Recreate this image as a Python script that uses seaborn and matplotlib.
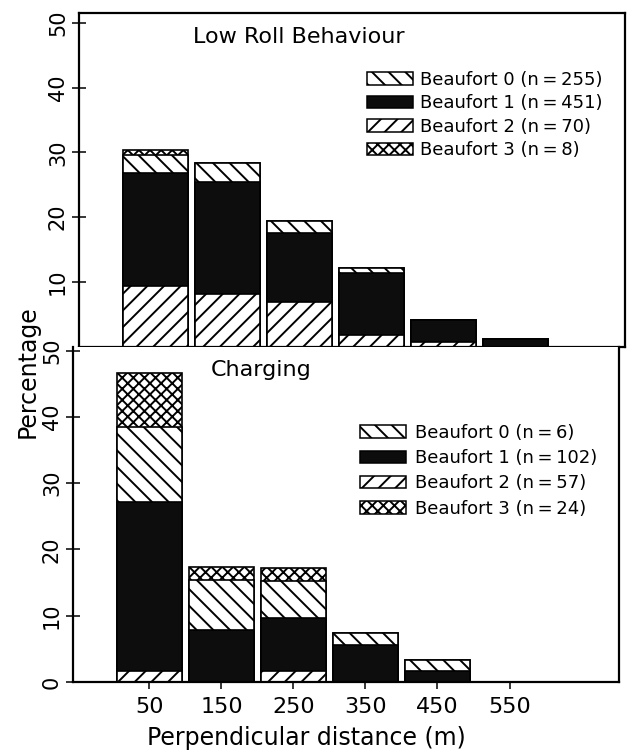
import numpy as np
import pandas as pd
import matplotlib
matplotlib.use("Agg")
import matplotlib.pyplot as plt
import seaborn as sns
from matplotlib.patches import Patch

# ---------------- data ----------------
distances = [50, 150, 250, 350, 450, 550]
x_tick_labels = ["50", "150", "250", "350", "450", "550"]
categories = ["Beaufort 0", "Beaufort 1", "Beaufort 2", "Beaufort 3"]

low_roll_b0 = [2.8, 2.9, 1.9, 0.7, 0.0, 0.0]
low_roll_b1 = [17.4, 17.4, 10.6, 9.6, 3.4, 1.2]
low_roll_b2 = [9.4, 8.1, 6.9, 1.8, 0.7, 0.0]
low_roll_b3 = [0.8, 0.0, 0.0, 0.0, 0.0, 0.0]
low_roll_n = [255, 451, 70, 8]

charging_b0 = [11.3, 7.6, 5.7, 1.8, 1.7, 0.0]
charging_b1 = [25.6, 7.8, 8.0, 5.6, 1.6, 0.0]
charging_b2 = [1.6, 0.0, 1.6, 0.0, 0.0, 0.0]
charging_b3 = [8.1, 2.0, 1.9, 0.0, 0.0, 0.0]
charging_n = [6, 102, 57, 24]

# ---------------- style ----------------
sns.set_theme(style="ticks")
plt.rcParams["font.family"] = ["DejaVu Sans"]
plt.rcParams["hatch.linewidth"] = 1.4
plt.rcParams["hatch.color"] = "black"
plt.rcParams["text.color"] = "black"
plt.rcParams["xtick.color"] = "black"
plt.rcParams["ytick.color"] = "black"
plt.rcParams["xtick.labelcolor"] = "black"
plt.rcParams["ytick.labelcolor"] = "black"

BLACK = "#0d0d0d"
styles = {
    "Beaufort 0": dict(color="white", hatch="\\\\"),
    "Beaufort 1": dict(color=BLACK, hatch=None),
    "Beaufort 2": dict(color="white", hatch="//"),
    "Beaufort 3": dict(color="white", hatch="xxx"),
}

W, H = 628, 753
fig = plt.figure(figsize=(W / 100, H / 100), dpi=100)


def px_axes(left, right, top, bottom):
    return fig.add_axes([left / W, 1 - bottom / H, (right - left) / W, (bottom - top) / H])


ax_top = px_axes(79, 625, 13, 346.5)
ax_bot = px_axes(73, 619, 346.5, 682)


def draw_panel(ax, b0, b1, b2, b3):
    b0, b1, b2, b3 = map(np.asarray, (b0, b1, b2, b3))
    c1 = b2
    c2 = c1 + b1
    c3 = c2 + b0
    c4 = c3 + b3
    # draw from top of stack downward so lower segments overlay
    for cum, cat in [(c4, "Beaufort 3"), (c3, "Beaufort 0"), (c2, "Beaufort 1"), (c1, "Beaufort 2")]:
        df = pd.DataFrame({"distance": distances, "pct": cum})
        st = styles[cat]
        sns.barplot(data=df, x="distance", y="pct", native_scale=True, ax=ax,
                    color=st["color"], saturation=1, edgecolor="black",
                    linewidth=1.2, hatch=st["hatch"], width=0.9, errorbar=None)
    ax.set_xlim(-56, 702)
    ax.set_xlabel("")
    ax.set_ylabel("")
    for s in ax.spines.values():
        s.set_linewidth(1.6)
        s.set_color("black")


draw_panel(ax_top, low_roll_b0, low_roll_b1, low_roll_b2, low_roll_b3)
draw_panel(ax_bot, charging_b0, charging_b1, charging_b2, charging_b3)

ax_top.set_ylim(0, 51.55)
ax_bot.set_ylim(0, 50.63)

ax_top.set_yticks([10, 20, 30, 40, 50])
ax_top.set_yticklabels(["10", "20", "30", "40", "50"])
ax_bot.set_yticks([0, 10, 20, 30, 40, 50])
ax_bot.set_yticklabels(["0", "10", "20", "30", "40", "50"])

for ax in (ax_top, ax_bot):
    ax.tick_params(axis="y", direction="inout", length=10, width=1.1, pad=3,
                   labelsize=15, labelrotation=90, colors="black")
    for lab in ax.get_yticklabels():
        lab.set_verticalalignment("center")

ax_top.set_xticks([])
ax_top.tick_params(axis="x", bottom=False, labelbottom=False)
ax_bot.spines["top"].set_visible(False)
ax_bot.set_xticks(distances)
ax_bot.set_xticklabels(x_tick_labels)
ax_bot.tick_params(axis="x", direction="out", length=5, width=1.1, pad=6,
                   labelsize=16, colors="black")

# titles
fig.text(193 / W, 1 - 37 / H, "Low Roll Behaviour", fontsize=16, ha="left", va="center", color="black")
fig.text(211 / W, 1 - 370 / H, "Charging", fontsize=16, ha="left", va="center", color="black")

# axis labels
fig.text(306 / W, 1 - 738 / H, "Perpendicular distance (m)", fontsize=17,
         ha="center", va="center", color="black")
fig.text(28 / W, 1 - 372 / H, "Percentage", fontsize=17, ha="center", va="center",
         rotation=90, color="black")


def make_handles():
    hs = []
    for cat in categories:
        st = styles[cat]
        hs.append(Patch(facecolor=st["color"], edgecolor="black", hatch=st["hatch"], linewidth=1.1))
    return hs


top_labels = [f"{c} (n\u2009=\u2009{n})" for c, n in zip(categories, low_roll_n)]
bot_labels = [f"{c} (n\u2009=\u2009{n})" for c, n in zip(categories, charging_n)]

leg1 = fig.legend(make_handles(), top_labels, loc="upper left",
                  bbox_to_anchor=(367 / W, 1 - 71 / H), bbox_transform=fig.transFigure,
                  frameon=False, fontsize=13, handlelength=2.55, handleheight=0.7,
                  handletextpad=0.4, labelspacing=0.3, borderpad=0, borderaxespad=0,
                  labelcolor="black")
leg2 = fig.legend(make_handles(), bot_labels, loc="upper left",
                  bbox_to_anchor=(360 / W, 1 - 424 / H), bbox_transform=fig.transFigure,
                  frameon=False, fontsize=13, handlelength=2.55, handleheight=0.7,
                  handletextpad=0.5, labelspacing=0.4, borderpad=0, borderaxespad=0,
                  labelcolor="black")

fig.savefig("out.png", dpi=100)
